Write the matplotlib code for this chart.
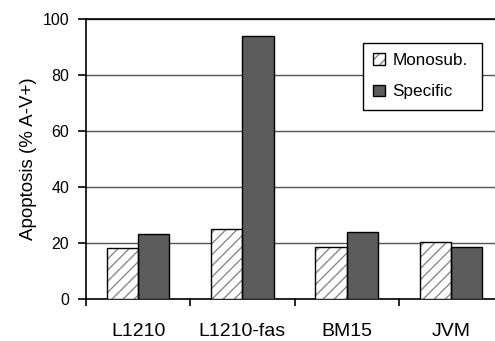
import matplotlib.pyplot as plt
from matplotlib.patches import Patch
import numpy as np

plt.rcParams['font.family'] = ['Liberation Sans', 'DejaVu Sans']
plt.rcParams['hatch.linewidth'] = 1.0

# data
cells = ['L1210', 'L1210-fas', 'BM15', 'JVM']
monosub = [18.3, 25.0, 18.7, 20.2]
specific = [23.2, 94.0, 23.8, 18.7]

hatch_gray = '#8a8a8a'
dark = '#5c5c5c'

fig = plt.figure(figsize=(4.95, 3.41), dpi=100)
ax = fig.add_axes([86 / 495, 42 / 341, 417 / 495, 280 / 341])

x = np.arange(len(cells))
w = 0.3
# hatched fill in gray, black outline drawn on top
ax.bar(x - w / 2, monosub, w, color='white', edgecolor=hatch_gray, linewidth=0,
       hatch='///', zorder=3)
ax.bar(x - w / 2, monosub, w, color='none', edgecolor='black', linewidth=1.0, zorder=4)
ax.bar(x + w / 2, specific, w, color=dark, edgecolor='black', linewidth=1.0, zorder=3)

ax.set_xlim(-0.5, len(cells) - 0.5)
ax.set_ylim(0, 100)
ax.set_yticks([0, 20, 40, 60, 80, 100])
ax.yaxis.grid(True, color='#555555', linewidth=1.0, zorder=0)
ax.tick_params(axis='y', labelsize=11.5, length=6, width=1.2, direction='out', pad=6)

# category boundaries as ticks, labels centred
ax.set_xticks(np.arange(-0.5, len(cells), 1.0))
ax.set_xticklabels([])
ax.set_xticks(x, minor=True)
ax.set_xticklabels(cells, minor=True)
ax.tick_params(axis='x', which='major', length=5, width=1.2, direction='out')
ax.tick_params(axis='x', which='minor', length=0, labelsize=14, pad=17)

for s in ['left', 'bottom', 'top']:
    ax.spines[s].set_linewidth(1.2)
ax.spines['right'].set_visible(False)

ax.set_ylabel('Apoptosis (% A-V+)', fontsize=13.5, labelpad=4)

h_mono = (Patch(facecolor='white', edgecolor=hatch_gray, linewidth=0, hatch='///'),
          Patch(facecolor='none', edgecolor='black', linewidth=1.0))
h_spec = Patch(facecolor=dark, edgecolor='black', linewidth=1.0)
leg = ax.legend([h_mono, h_spec], ['Monosub.', 'Specific'],
                loc='upper left', bbox_to_anchor=(363 / 495, 1 - 109 / 341, 119 / 495, 66 / 341),
                bbox_transform=fig.transFigure, mode='expand', fontsize=12.3,
                handlelength=0.66, handleheight=0.66, handletextpad=0.45,
                labelspacing=0.95, borderpad=0.6, borderaxespad=0, fancybox=False,
                edgecolor='black', framealpha=1)
leg.get_frame().set_linewidth(1.0)

fig.savefig('out.png', dpi=100)
